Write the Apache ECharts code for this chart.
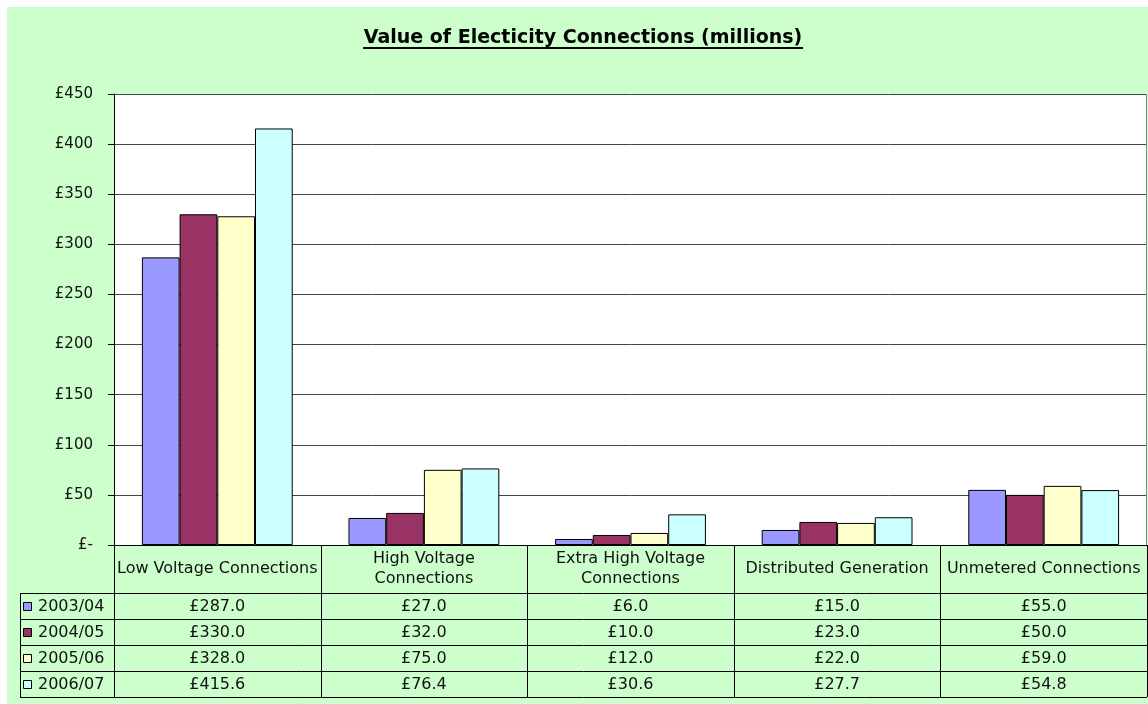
<!DOCTYPE html>
<html>
<head>
<meta charset="utf-8">
<script src="https://cdn.jsdelivr.net/npm/echarts@6/dist/echarts.min.js"></script>
<style>
  html, body { margin: 0; padding: 0; background: #fff; }
  #chart { width: 1148px; height: 704px; }
</style>
</head>
<body>
<div id="chart"></div>
<script>
// data
const categories = [
  'Low Voltage Connections',
  'High Voltage\nConnections',
  'Extra High Voltage\nConnections',
  'Distributed Generation',
  'Unmetered Connections'
]
const seriesNames = ['2003/04', '2004/05', '2005/06', '2006/07']
const values0304 = [287.0, 27.0, 6.0, 15.0, 55.0]
const values0405 = [330.0, 32.0, 10.0, 23.0, 50.0]
const values0506 = [328.0, 75.0, 12.0, 22.0, 59.0]
const values0607 = [415.6, 76.4, 30.6, 27.7, 54.8]
const yMin = 0
const yMax = 450
const yStep = 50

const seriesValues = [values0304, values0405, values0506, values0607]
const colors = ['#9999FF', '#993366', '#FFFFCC', '#CCFFFF']
const FONT = 'DejaVu Sans'

// layout of the plot and the data table
const plot = { left: 114, top: 94, right: 1147, bottom: 545 }
const headerH = 48
const rowH = 26
const tableLeft = 20

const chart = echarts.init(document.getElementById('chart'))

const option = {
  animation: false,
  textStyle: { fontFamily: FONT },
  grid: {
    left: plot.left,
    top: plot.top,
    width: plot.right - plot.left,
    height: plot.bottom - plot.top,
    show: true,
    backgroundColor: '#fff',
    borderWidth: 0
  },
  xAxis: {
    type: 'category',
    data: categories,
    axisLine: { lineStyle: { color: '#000', width: 1 } },
    axisTick: { show: false },
    axisLabel: {
      interval: 0,
      color: '#111',
      fontSize: 16,
      fontFamily: FONT,
      lineHeight: 20,
      verticalAlign: 'middle',
      margin: headerH / 2
    }
  },
  yAxis: {
    type: 'value',
    min: yMin,
    max: yMax,
    interval: yStep,
    axisLine: { show: true, lineStyle: { color: '#000', width: 1 } },
    axisTick: { show: true, length: 6, lineStyle: { color: '#000' } },
    splitLine: { lineStyle: { color: '#444', width: 1 } },
    axisLabel: {
      color: '#111',
      fontSize: 15,
      fontFamily: FONT,
      margin: 21,
      formatter: v => (v === 0 ? '£-' : '£' + v)
    }
  },
  series: seriesNames.map((name, i) => ({
    name,
    type: 'bar',
    data: seriesValues[i],
    barGap: '0%',
    barCategoryGap: '27%',
    itemStyle: { color: colors[i], borderColor: '#000', borderWidth: 1 }
  }))
}

chart.setOption(option)

// data table built from the category axis positions
function buildTable() {
  const centers = categories.map((c, i) => chart.convertToPixel({ xAxisIndex: 0 }, i))
  const band = centers[1] - centers[0]
  const edges = [centers[0] - band / 2].concat(centers.map(c => c + band / 2))
  const headerBottom = plot.bottom + headerH
  const tableBottom = headerBottom + rowH * seriesNames.length
  const lineStyle = { stroke: '#000', lineWidth: 1 }
  const cellFont = '16px "DejaVu Sans"'
  const els = []

  // green sheet behind everything
  els.push({
    type: 'rect', z: -10, silent: true,
    shape: { x: 7, y: 7, width: 1148 - 7, height: 704 - 7 },
    style: { fill: '#CCFFCC' }
  })
  // right border of the plot
  els.push({
    type: 'line', z: 5,
    shape: { x1: plot.right - 0.5, y1: plot.top, x2: plot.right - 0.5, y2: plot.bottom },
    style: { stroke: '#888', lineWidth: 1 }
  })

  // title with underline
  els.push({
    type: 'text', x: 583, y: 38,
    style: {
      text: 'Value of Electicity Connections (millions)',
      font: 'bold 19px "DejaVu Sans"', fill: '#000',
      textAlign: 'center', textVerticalAlign: 'middle'
    }
  })
  els.push({
    type: 'rect',
    shape: { x: 363, y: 47, width: 440, height: 2 },
    style: { fill: '#000' }
  })

  // vertical lines
  edges.forEach(x => {
    els.push({
      type: 'line',
      shape: { x1: Math.round(x) + 0.5, y1: plot.bottom, x2: Math.round(x) + 0.5, y2: tableBottom },
      style: lineStyle
    })
  })
  els.push({
    type: 'line',
    shape: { x1: tableLeft + 0.5, y1: headerBottom, x2: tableLeft + 0.5, y2: tableBottom },
    style: lineStyle
  })
  // horizontal lines
  for (let r = 0; r <= seriesNames.length; r++) {
    const y = headerBottom + r * rowH + 0.5
    els.push({
      type: 'line',
      shape: { x1: tableLeft, y1: y, x2: plot.right, y2: y },
      style: lineStyle
    })
  }

  // rows
  seriesNames.forEach((name, r) => {
    const cy = headerBottom + r * rowH + rowH / 2 + 1
    els.push({
      type: 'rect',
      shape: { x: 23.5, y: Math.round(cy - 5) + 0.5, width: 8, height: 8 },
      style: { fill: colors[r], stroke: '#000', lineWidth: 1 }
    })
    els.push({
      type: 'text', x: 38, y: cy,
      style: { text: name, font: cellFont, fill: '#111', textVerticalAlign: 'middle', textAlign: 'left' }
    })
    seriesValues[r].forEach((v, c) => {
      els.push({
        type: 'text', x: centers[c], y: cy,
        style: { text: '£' + v.toFixed(1), font: cellFont, fill: '#111', textVerticalAlign: 'middle', textAlign: 'center' }
      })
    })
  })

  chart.setOption({ graphic: els })
}

buildTable()
</script>
</body>
</html>
